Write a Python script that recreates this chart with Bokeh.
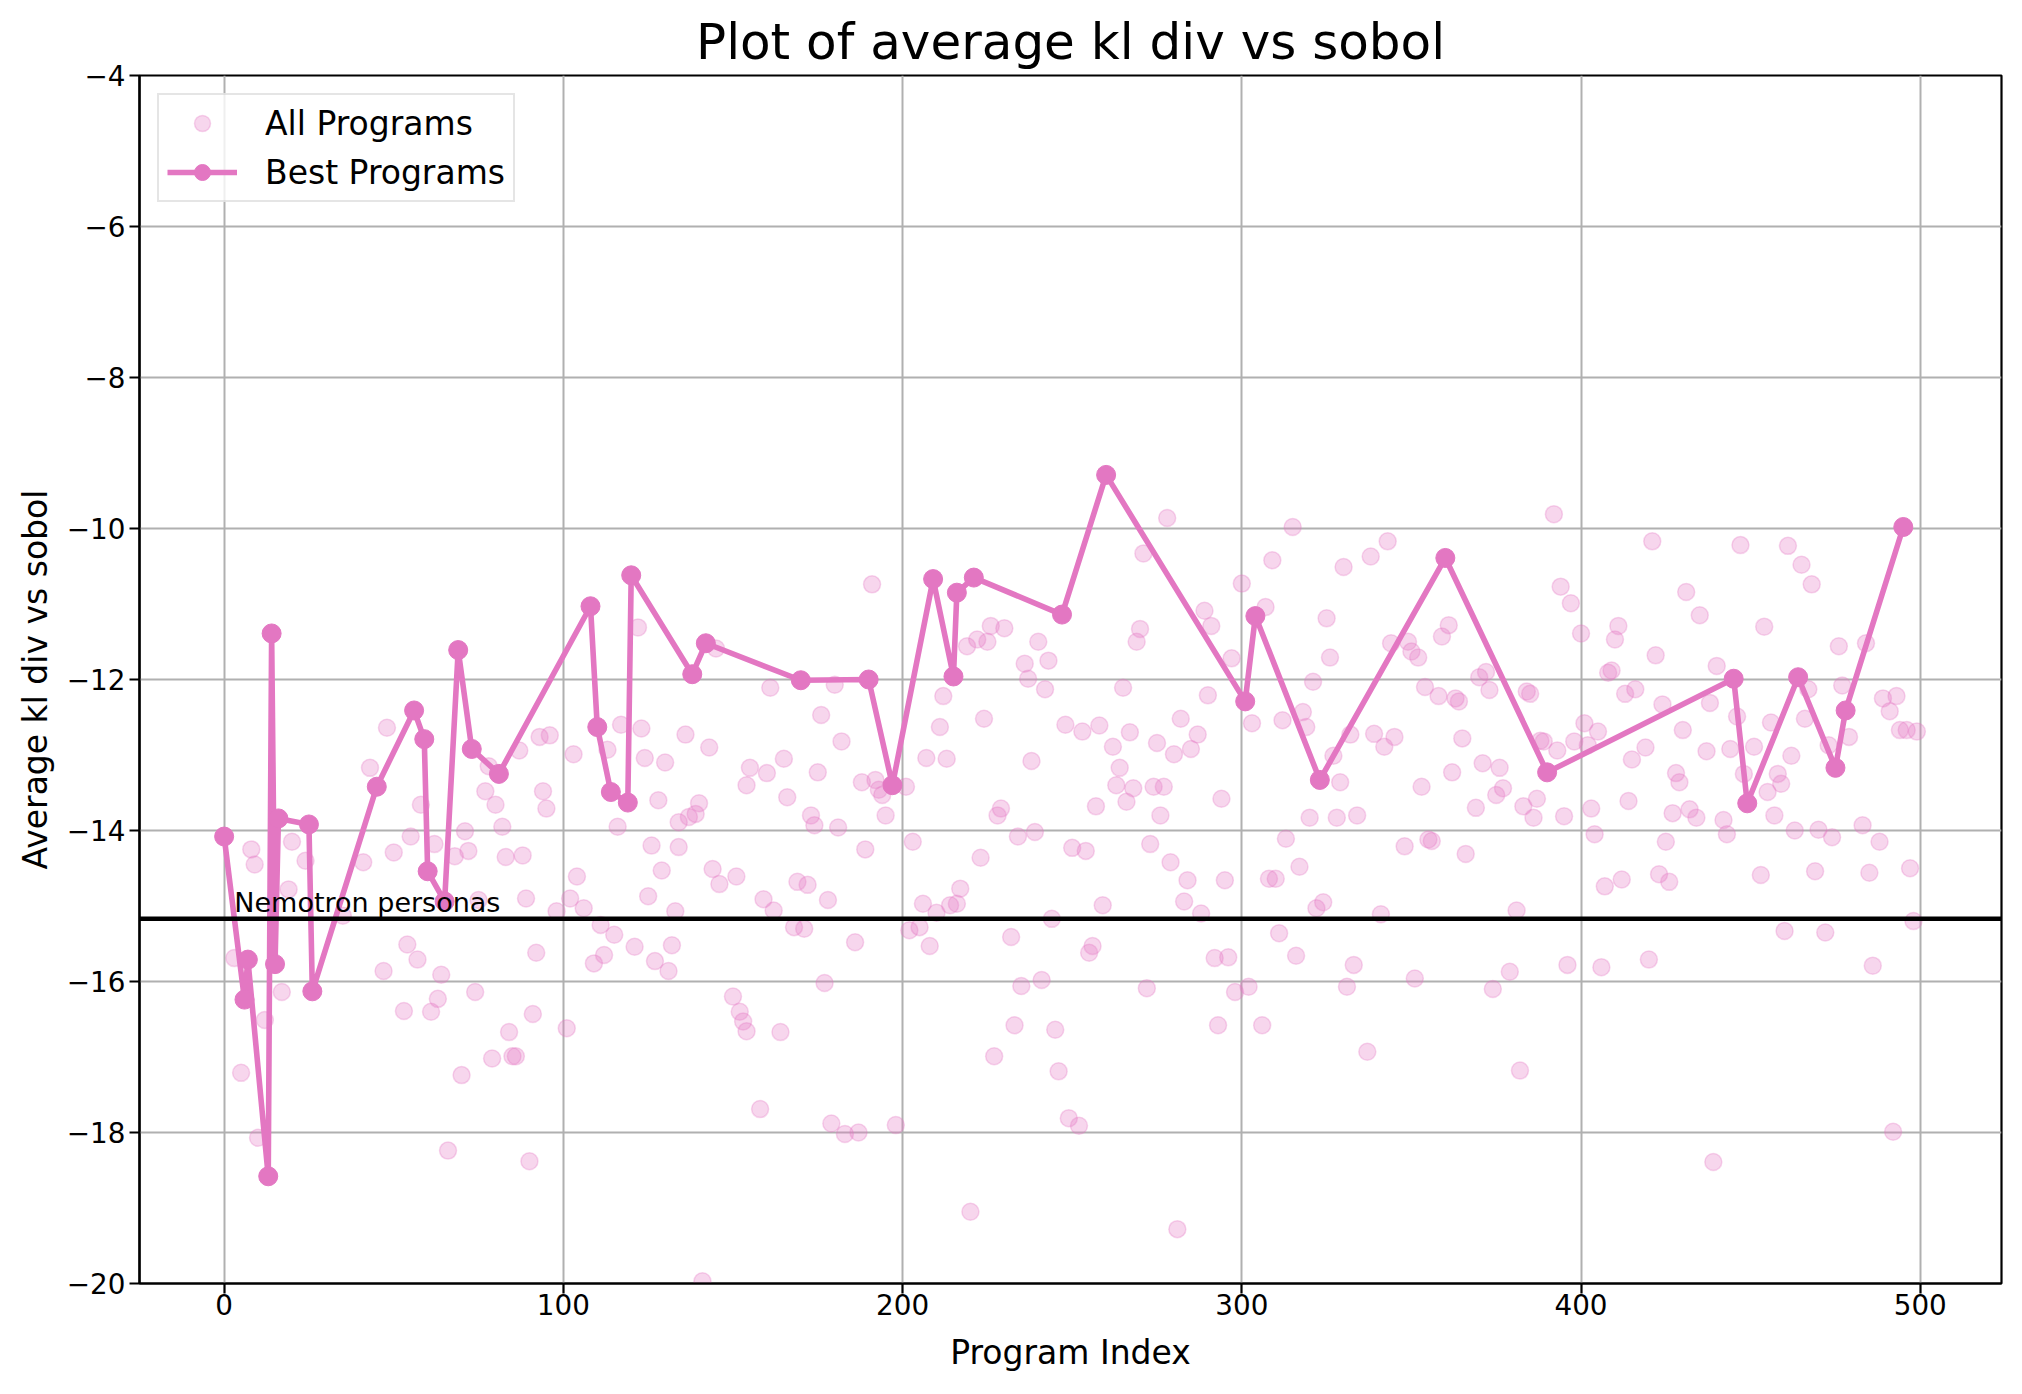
from bokeh.plotting import figure
from bokeh.models import Span, Label, Legend, LegendItem, FixedTicker, Range1d
from bokeh.embed import file_html
from bokeh.resources import INLINE

# ---------------- data ----------------
all_idx = [3, 5, 8, 9, 10, 12, 17, 19, 20, 24,
           35, 41, 43, 47, 48, 50, 53, 54, 55, 57, 58, 61, 62, 63, 64, 66, 68, 70, 71, 72,
           74, 75, 77, 78, 79, 80, 82, 83, 84, 85, 86, 87, 88, 89, 90, 91, 92, 93, 94, 95, 96,
           98, 101, 102, 103, 104, 106, 109, 111, 112, 113, 115, 116, 117, 121, 122, 123, 124,
           125, 126, 127, 128, 129, 130, 131, 132, 133, 134, 134, 136, 137, 139, 140, 141, 143,
           144, 145, 146, 150, 151, 152, 153, 154, 154, 155,
           158, 159, 160, 161, 162, 164, 165, 166, 168, 169, 171, 172, 173, 174, 175, 176, 177,
           178, 179, 180, 181, 182, 183, 186, 187, 188, 189, 191, 192, 193, 194, 195, 198, 201,
           202, 203, 205, 206, 207, 208, 210, 211, 212, 213, 214, 216, 217,
           219, 220, 222, 223, 224, 225, 226, 227, 228, 229, 230, 232, 233, 234, 235, 236, 237,
           238, 239, 240, 241, 242, 243, 244, 245, 246, 248, 249, 250, 252, 253, 254, 255, 256,
           257, 258, 259, 262, 263, 264, 265, 266, 267, 268, 269, 270, 271, 272, 273, 274, 275,
           276, 277, 278, 279,
           280, 281, 282, 283, 284, 285, 287, 288, 289, 290, 291, 292, 293, 294, 295, 296, 297,
           298, 300, 302, 303, 306, 307, 308, 309, 310, 311, 312, 313, 315, 316, 317, 318, 319,
           320, 321, 322, 324, 325, 326, 327, 328, 329, 330, 331, 333, 332, 334, 337, 338,
           339, 341, 342, 343, 344, 345, 348, 349, 350, 351, 352, 353, 354, 355, 356, 358, 359,
           361, 362, 363, 364, 365, 366, 369, 370, 371, 372, 373, 374, 375, 376, 377, 379, 381,
           382, 383, 384, 385, 386, 387, 388, 389, 392, 393, 394, 395, 396, 397, 398, 400,
           401, 402, 403, 404, 405, 406, 407, 408, 409, 410, 411, 412, 413, 414, 415, 416, 419,
           420, 421, 422, 423, 424, 425, 426, 427, 428, 429, 430, 431, 432, 434, 435, 437, 438,
           439, 440, 442, 443, 444, 446, 447, 448, 451, 453, 454, 455, 456, 457, 458, 459, 460,
           461, 462, 463,
           465, 466, 467, 468, 469, 470, 472, 473, 474, 476, 477, 479, 483, 484, 485, 486, 488,
           489, 491, 492, 493, 494, 496, 497, 498, 499]
all_val = [-15.69, -17.21, -14.25, -14.45, -18.07, -16.51, -16.14, -14.78, -14.15, -14.40,
           -15.13, -14.42, -13.17, -15.86, -12.64, -14.29, -16.39, -15.51, -14.08, -15.71, -13.66,
           -16.40, -14.18, -16.23, -15.91, -18.24, -14.34, -17.24, -14.01, -14.27,
           -16.14, -14.92, -13.48, -13.15, -17.02, -13.66, -13.95, -14.35, -16.67, -16.99, -16.99,
           -12.94, -14.33, -14.90, -18.38, -16.43, -15.62, -12.76, -13.48, -13.71, -12.74,
           -15.07, -16.62, -14.90, -12.99, -14.61, -15.03, -15.76, -15.25, -15.65, -12.93, -15.38,
           -13.95, -12.60, -15.54, -11.31, -12.65, -13.04,
           -14.87, -14.20, -15.73, -13.60, -14.53, -13.10, -15.86, -15.52, -15.07, -14.22, -13.89,
           -12.73, -13.82, -13.78, -13.64, -19.97, -12.90,
           -14.51, -11.59, -14.71, -16.20, -14.61, -16.40, -16.53, -16.66, -13.40, -13.17,
           -17.69, -14.91, -13.24, -12.11, -15.06, -16.67, -13.05, -13.56, -15.28, -14.68, -15.30,
           -14.72, -13.80, -13.93, -13.23, -12.47, -16.02,
           -14.92, -17.88, -12.07, -13.96, -12.82, -18.02, -15.48, -18.00, -13.36, -14.25, -10.74,
           -13.33, -13.46, -13.53, -13.80, -17.90, -13.42,
           -15.32, -14.15, -15.28, -14.97, -13.04, -15.53, -15.09, -12.63, -12.22, -13.05, -14.99,
           -14.97, -14.77,
           -11.56, -19.05, -11.47, -14.36, -12.52, -11.50, -11.29, -16.99, -13.80, -13.71, -11.32,
           -15.41, -16.58, -14.08, -16.06, -11.79, -11.99,
           -13.08, -14.02, -11.50, -15.98, -12.13, -11.75, -15.17, -16.64, -17.19, -12.60, -17.81,
           -14.23, -17.91, -12.69, -14.27, -15.62, -15.53,
           -13.68, -12.61, -14.99, -12.89, -13.40, -13.17, -12.11, -13.62, -12.70, -13.44, -11.50,
           -11.33, -10.33, -16.09, -14.18, -13.42, -12.84,
           -13.80, -13.42, -9.86, -14.42,
           -12.99, -19.28, -12.52, -14.94, -14.66, -12.92, -12.73, -15.10, -11.09, -12.21, -11.29,
           -15.69, -16.58, -13.58, -14.66, -15.68, -11.72,
           -16.14, -10.73, -16.07, -12.58, -16.58, -11.04, -14.64, -10.42, -14.64, -15.36, -12.54,
           -14.11, -9.98, -15.66, -14.48, -12.43, -12.63,
           -13.83, -12.03, -15.03, -14.95, -11.19, -11.71, -13.01, -13.83, -13.36, -10.51, -16.07,
           -15.78, -12.73, -13.80, -16.93, -10.37,
           -12.72, -15.11, -12.89, -10.17, -11.52, -12.76, -14.21, -11.50, -11.63, -15.96, -11.71,
           -13.42, -12.10, -14.12, -14.14, -12.22, -11.43,
           -11.28, -13.23, -12.25, -12.29, -12.78, -14.31, -13.70, -11.97, -13.11, -11.90, -12.14,
           -16.10, -13.53, -13.17, -13.44, -15.87, -15.06,
           -17.18, -13.68, -12.16, -12.19, -13.83, -13.58, -12.81, -12.82, -9.81, -12.94, -10.77,
           -13.81, -15.78, -10.99, -12.82, -11.39,
           -12.58, -12.87, -13.71, -14.05, -12.69, -15.81, -14.74, -11.91, -11.88, -11.47, -11.29,
           -14.65, -12.19, -13.61, -13.06, -12.13, -12.90,
           -15.71, -10.17, -11.68, -14.58, -12.33, -14.15, -14.68, -13.77, -13.24, -13.36, -12.67,
           -10.84, -13.72, -13.83, -11.15, -12.95, -12.31,
           -18.39, -11.82, -13.86, -14.05, -12.92, -12.49, -10.22, -13.25, -12.89, -14.59, -11.30,
           -13.49, -12.57, -13.80, -13.25, -13.38, -15.33,
           -10.23, -13.01, -14.00,
           -10.48, -12.52, -12.13, -10.74, -14.54, -13.99, -15.35, -12.87, -14.09, -11.56, -12.08,
           -12.76, -13.93, -11.52, -14.56, -15.79, -14.15,
           -12.25, -12.42, -17.99, -12.22, -12.67, -12.67, -14.50, -15.20, -12.69]

best_idx = [0, 6, 7, 13, 14, 15, 16, 25, 26, 45, 56, 59, 60, 65, 69, 73, 81,
            108, 110, 114, 119, 120, 138, 142, 170, 190, 197, 209, 215, 216, 221,
            247, 260, 301, 304, 323, 360, 390, 445, 449, 464, 475, 478, 495]
best_val = [-14.08, -16.24, -15.71, -18.58, -11.39, -15.77, -13.84, -13.92, -16.13, -13.42,
            -12.41, -12.79, -14.54, -14.94, -11.61, -12.92, -13.25,
            -11.03, -12.63, -13.49, -13.63, -10.62, -11.93, -11.52, -12.01, -12.00, -13.40,
            -10.67, -11.96, -10.85, -10.65,
            -11.14, -9.29, -12.29, -11.16, -13.33, -10.39, -13.23, -11.99, -13.64, -11.97,
            -13.17, -12.41, -9.98]

baseline_value = -15.17
baseline_label = "Nemotron personas"
baseline_label_x = 3

x_ticks = [0, 100, 200, 300, 400, 500]
y_ticks = [-20, -18, -16, -14, -12, -10, -8, -6, -4]
y_tick_labels = ["\u221220", "\u221218", "\u221216", "\u221214", "\u221212",
                 "\u221210", "\u22128", "\u22126", "\u22124"]

title_text = "Plot of average kl div vs sobol"
x_label = "Program Index"
y_label = "Average kl div vs sobol"

# ---------------- styling ----------------
PINK = "#e377c2"
FONT = "DejaVu Sans"

p = figure(frame_width=1862, frame_height=1208,
           x_range=Range1d(-24.95, 523.95), y_range=Range1d(-20, -4),
           output_backend="svg", toolbar_location=None,
           min_border_left=139, min_border_top=75, min_border_right=18, min_border_bottom=105,
           title=title_text)

p.background_fill_color = "white"
p.border_fill_color = "white"
p.outline_line_color = "black"
p.outline_line_width = 2.2

p.title.text_font = FONT
p.title.text_font_size = "50px"
p.title.text_font_style = "normal"
p.title.text_color = "black"
p.title.align = "center"

for ax in (p.xaxis[0], p.yaxis[0]):
    ax.axis_line_color = "black"
    ax.axis_line_width = 2.2
    ax.major_tick_line_color = "black"
    ax.major_tick_line_width = 2.2
    ax.major_tick_out = 10
    ax.major_tick_in = 0
    ax.minor_tick_line_color = None
    ax.major_label_text_font = FONT
    ax.major_label_text_font_size = "27.8px"
    ax.major_label_text_color = "black"
    ax.axis_label_text_font = FONT
    ax.axis_label_text_font_size = "33px"
    ax.axis_label_text_font_style = "normal"
    ax.axis_label_text_color = "black"

p.xaxis.ticker = FixedTicker(ticks=x_ticks)
p.yaxis.ticker = FixedTicker(ticks=y_ticks)
p.yaxis.major_label_overrides = {t: l for t, l in zip(y_ticks, y_tick_labels)}
p.xaxis.axis_label = x_label
p.yaxis.axis_label = y_label
p.xaxis.major_label_standoff = 0
p.yaxis.major_label_standoff = 4
p.xaxis.axis_label_standoff = 15
p.yaxis.axis_label_standoff = 9

p.xgrid.grid_line_color = "#b0b0b0"
p.ygrid.grid_line_color = "#b0b0b0"
p.xgrid.grid_line_width = 2
p.ygrid.grid_line_width = 2

# ---------------- glyphs ----------------
sc = p.scatter(all_idx + best_idx, all_val + best_val, size=17,
               fill_color=PINK, fill_alpha=0.3, line_color=PINK, line_alpha=0.3, line_width=1.5)

ln = p.line(best_idx, best_val, line_color=PINK, line_width=5.6)
bs = p.scatter(best_idx, best_val, size=19, fill_color=PINK, line_color=PINK)

p.add_layout(Span(location=baseline_value, dimension="width",
                  line_color="black", line_width=4.5))
p.add_layout(Label(x=baseline_label_x, y=baseline_value, text=baseline_label,
                   text_font=FONT, text_font_size="27px", text_color="black",
                   text_baseline="alphabetic", y_offset=16))

legend = Legend(items=[LegendItem(label="All Programs", renderers=[sc]),
                       LegendItem(label="Best Programs", renderers=[ln, bs])],
                location="top_left")
legend.margin = 18
legend.padding = 8
legend.spacing = 9
legend.glyph_width = 70
legend.glyph_height = 40
legend.label_height = 30
legend.label_standoff = 28
legend.label_text_font = FONT
legend.label_text_font_size = "33px"
legend.label_text_color = "black"
legend.border_line_color = "#cccccc"
legend.border_line_width = 2
legend.background_fill_color = "white"
legend.background_fill_alpha = 0.8
p.add_layout(legend)

open("out.html", "w").write(file_html(p, INLINE))
